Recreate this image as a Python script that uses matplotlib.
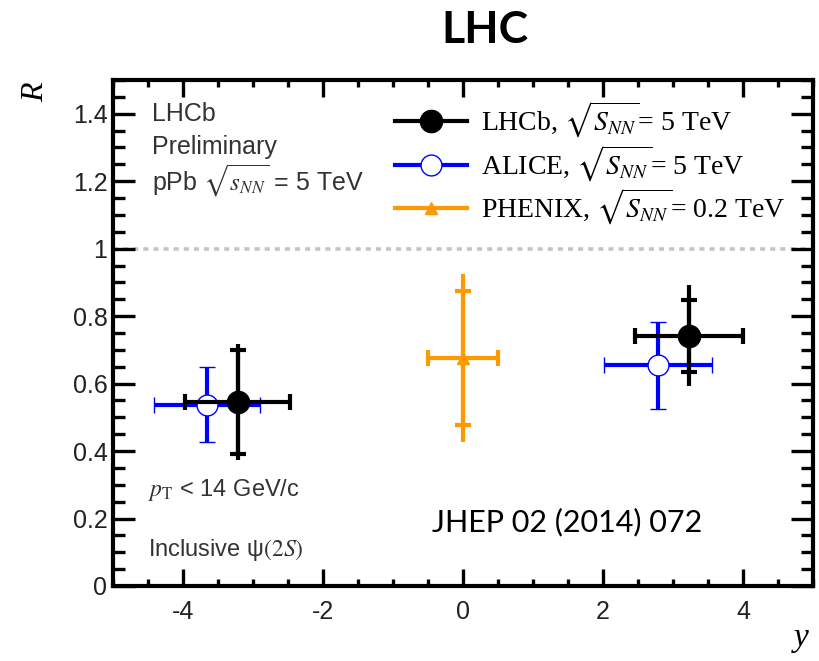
import numpy as np
import matplotlib.pyplot as plt
from matplotlib.lines import Line2D
from matplotlib.ticker import MultipleLocator, FormatStrFormatter

plt.rcParams['font.family'] = ['Liberation Sans', 'DejaVu Sans']
plt.rcParams['mathtext.fontset'] = 'stix'
plt.rcParams['axes.unicode_minus'] = False

# psi(2S) nuclear modification vs rapidity
lhcb_y = [-3.22, 3.23]
lhcb_r = [0.545, 0.742]
lhcb_yhw = [0.75, 0.77]
lhcb_stat = [0.155, 0.107]
lhcb_tot = [0.173, 0.149]

alice_y = [-3.66, 2.78]
alice_r = [0.537, 0.654]
alice_yhw = [0.76, 0.77]
alice_err = [0.111, 0.129]

phenix_y = [0.0]
phenix_r = [0.676]
phenix_yhw = [0.5]
phenix_stat = [0.198]
phenix_tot = [0.25]

labels = [r'LHCb, $\sqrt{S_{NN}}$= 5 TeV',
          r'ALICE, $\sqrt{S_{NN}}$= 5 TeV',
          r'PHENIX, $\sqrt{S_{NN}}$= 0.2 TeV']

orange = '#ff9900'
txtc = '#333333'

fig = plt.figure(figsize=(8.19, 6.61), dpi=100)
ax = fig.add_axes([0.138, 0.1135, 0.8547, 0.7655])

ax.axhline(1.0, color='#c4c4c4', lw=2.6, dashes=[1.4, 1.4], zorder=1)

# ALICE
ax.errorbar(alice_y, alice_r, xerr=alice_yhw, yerr=alice_err, fmt='o',
            color='blue', ecolor='blue', mfc='white', mec='blue', mew=1.0,
            ms=15, elinewidth=3, capsize=5.5, capthick=3, zorder=3)

# LHCb: total errors as plain lines, stat errors with caps
ax.errorbar(lhcb_y, lhcb_r, yerr=lhcb_tot, fmt='none', ecolor='black',
            elinewidth=3, capsize=0, zorder=4)
ax.errorbar(lhcb_y, lhcb_r, xerr=lhcb_yhw, yerr=lhcb_stat, fmt='o',
            color='black', ms=16, elinewidth=3, capsize=5.5, capthick=3, zorder=4)

# PHENIX
ax.errorbar(phenix_y, phenix_r, yerr=phenix_tot, fmt='none', ecolor=orange,
            elinewidth=3, capsize=0, zorder=4)
ax.errorbar(phenix_y, phenix_r, xerr=phenix_yhw, yerr=phenix_stat, fmt='^',
            color=orange, ms=9, elinewidth=3, capsize=5.5, capthick=3, zorder=4)

ax.set_xlim(-5, 5)
ax.set_ylim(0, 1.5)
ax.xaxis.set_major_locator(MultipleLocator(2))
ax.xaxis.set_minor_locator(MultipleLocator(0.5))
ax.yaxis.set_major_locator(MultipleLocator(0.2))
ax.yaxis.set_minor_locator(MultipleLocator(0.05))
ax.yaxis.set_major_formatter(FormatStrFormatter('%g'))

for s in ax.spines.values():
    s.set_linewidth(3)
ax.tick_params(which='both', direction='in', top=True, right=True, width=2.4,
               labelsize=18, labelcolor='#222222')
ax.tick_params(axis='y', which='major', length=16, pad=4)
ax.tick_params(axis='y', which='minor', length=8.5)
ax.tick_params(axis='x', which='major', length=12, pad=10)
ax.tick_params(axis='x', which='minor', length=5)

fig.text(0.043, 0.86, 'R', fontsize=23, family='Liberation Serif', style='italic',
         rotation=90, ha='center', va='center')
fig.text(0.978, 0.035, 'y', fontsize=24, family='Liberation Serif', style='italic',
         ha='center', va='center')

ax.text(0.056, 0.933, 'LHCb', transform=ax.transAxes, fontsize=18, color=txtc, va='center')
ax.text(0.056, 0.868, 'Preliminary', transform=ax.transAxes, fontsize=18, color=txtc, va='center')
ax.text(0.056, 0.800, r'pPb $\sqrt{s_{NN}}$ = 5 TeV', transform=ax.transAxes, fontsize=18,
        color=txtc, va='center')
ax.text(0.05, 0.19, r'$p_\mathrm{T}$ < 14 GeV/c', transform=ax.transAxes, fontsize=17,
        color=txtc, va='center')
ax.text(0.05, 0.071, r'Inclusive ψ$\mathit{(2S)}$', transform=ax.transAxes, fontsize=17,
        color=txtc, va='center')
ax.text(0.456, 0.126, 'JHEP 02 (2014) 072', transform=ax.transAxes, fontsize=22,
        family='Lato', va='center')

handles = [
    Line2D([], [], color='black', lw=3, marker='o', ms=16),
    Line2D([], [], color='blue', lw=3, marker='o', ms=15, mfc='white', mew=1.0),
    Line2D([], [], color=orange, lw=3, marker='^', ms=9),
]
ax.legend(handles, labels, loc='upper left', bbox_to_anchor=(0.403, 0.96), frameon=False,
          prop={'family': 'Liberation Serif', 'size': 20},
          handlelength=2.6, handletextpad=0.5, labelspacing=0.12,
          borderpad=0, borderaxespad=0)

fig.text(0.592, 0.955, 'LHC', fontsize=32, family='Lato', weight='bold',
         ha='center', va='center')

fig.savefig('out.png', dpi=100)
